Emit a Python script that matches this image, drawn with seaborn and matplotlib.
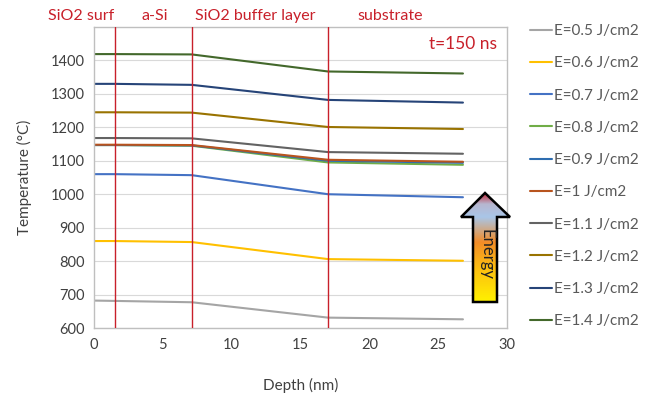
import numpy as np
import pandas as pd
import matplotlib
matplotlib.use("Agg")
import matplotlib.pyplot as plt
import seaborn as sns
from matplotlib.patches import Polygon
from matplotlib.colors import LinearSegmentedColormap

# ---- data ----
depth = [0, 1.5, 7.1, 17, 26.8]
labels = ["E=0.5 J/cm2", "E=0.6 J/cm2", "E=0.7 J/cm2", "E=0.8 J/cm2", "E=0.9 J/cm2",
          "E=1 J/cm2", "E=1.1 J/cm2", "E=1.2 J/cm2", "E=1.3 J/cm2", "E=1.4 J/cm2"]
t_05 = [682, 681, 677, 631, 626]
t_06 = [860, 860, 857, 806, 801]
t_07 = [1060, 1060, 1057, 1000, 991]
t_08 = [1147, 1147, 1145, 1095, 1088]
t_09 = [1147, 1147, 1146, 1100, 1094]
t_10 = [1148, 1148, 1147, 1103, 1097]
t_11 = [1168, 1168, 1167, 1126, 1121]
t_12 = [1245, 1245, 1244, 1201, 1195]
t_13 = [1330, 1330, 1327, 1282, 1274]
t_14 = [1419, 1419, 1418, 1367, 1361]
series = [t_05, t_06, t_07, t_08, t_09, t_10, t_11, t_12, t_13, t_14]
colors = ["#A5A5A5", "#FFC000", "#4472C4", "#70AD47", "#2E6DB0",
          "#B8541E", "#636363", "#997300", "#264478", "#43682B"]
boundaries = [1.5, 7.1, 17]
layer_names = ["SiO2 surf", "a-Si", "SiO2 buffer layer", "substrate"]
xticks = [0, 5, 10, 15, 20, 25, 30]
yticks = [600, 700, 800, 900, 1000, 1100, 1200, 1300, 1400]

rows = []
for lab, vals in zip(labels, series):
    for d, v in zip(depth, vals):
        rows.append({"Depth": d, "Temp": v, "Energy": lab})
df = pd.DataFrame(rows)

sns.set_theme(style="white")
plt.rcParams['font.family'] = ['Lato', 'DejaVu Sans']

W, H = 646, 398
fig = plt.figure(figsize=(W / 100, H / 100), dpi=100)
ax = fig.add_axes([94 / W, 1 - 328 / H, (507 - 94) / W, (328 - 27) / H])

sns.lineplot(data=df, x="Depth", y="Temp", hue="Energy", hue_order=labels,
             palette=colors, linewidth=1.5, ax=ax, legend=True)

ax.set_xlim(0, 30)
ax.set_ylim(600, 1500)
ax.set_xticks(xticks)
ax.set_yticks(yticks)
ax.yaxis.grid(True, color="#D9D9D9", linewidth=0.8)
ax.set_axisbelow(True)
for s in ax.spines.values():
    s.set_color("#BFBFBF")
    s.set_linewidth(1.0)
ax.tick_params(axis="both", direction="in", length=3, color="#BFBFBF",
               labelsize=10.5, labelcolor="#404040", pad=7)
ax.set_xlabel("Depth (nm)", fontsize=11, color="#404040", labelpad=19)
ax.set_ylabel("Temperature (°C)", fontsize=11, color="#404040", labelpad=13)

red = "#C8202A"
for b in boundaries:
    ax.axvline(b, color=red, linewidth=1.0, zorder=3)

ax.text(0.975, 0.945, "t=150 ns", transform=ax.transAxes, ha="right", va="center",
        color=red, fontsize=12.5)

label_x = [81.5, 155, 255.5, 390]
for name, xp in zip(layer_names, label_x):
    fig.text(xp / W, 1 - 16 / H, name, ha="center", va="center", color=red, fontsize=11.5)

handles, labs = ax.get_legend_handles_labels()
ax.legend(handles, labs, loc="upper left", bbox_to_anchor=(530 / W, 1 - 24 / H),
          bbox_transform=fig.transFigure, frameon=False, fontsize=11,
          labelcolor="#595959", handlelength=1.45, handletextpad=0.15,
          labelspacing=1.195, borderpad=0, borderaxespad=0)

# Energy arrow with gradient
aax = fig.add_axes([455 / W, 1 - 308 / H, 60 / W, 120 / H])
aax.set_xlim(455, 515)
aax.set_ylim(308, 188)
aax.axis("off")
pts = [(485, 193), (510, 217), (497, 217), (497, 302), (473, 302), (473, 217), (461, 217)]
cmap = LinearSegmentedColormap.from_list(
    "energy", [(0.0, "#FFF200"), (0.3, "#FDC010"), (0.55, "#F28C28"),
               (0.78, "#A9C6E8"), (0.9, "#B7B7D0"), (1.0, "#C0283A")])
grad = np.linspace(1, 0, 256).reshape(-1, 1)
poly = Polygon(pts, closed=True, facecolor="none", edgecolor="black", linewidth=1.8, zorder=3)
aax.add_patch(poly)
im = aax.imshow(grad, cmap=cmap, extent=(461, 510, 302, 193), origin="upper",
                aspect="auto", zorder=2)
im.set_clip_path(poly)
aax.set_xlim(455, 515)
aax.set_ylim(308, 188)
aax.text(486, 254, "Energy", rotation=-90, ha="center", va="center",
         fontsize=12, color="#222222")

fig.savefig("out.png", dpi=100)
